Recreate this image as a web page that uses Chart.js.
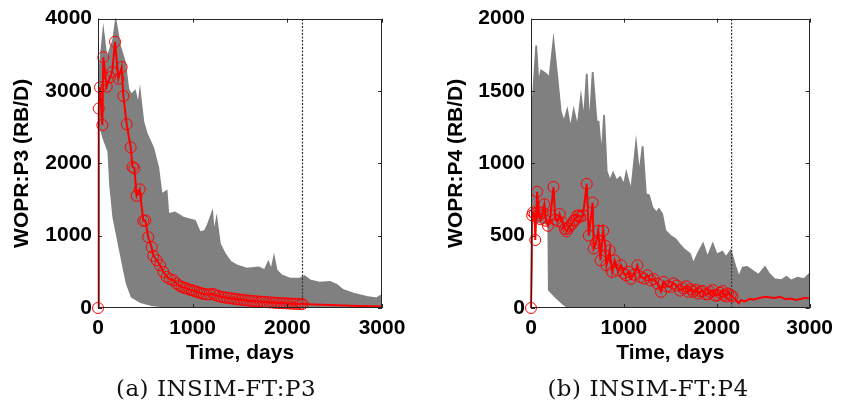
<!DOCTYPE html>
<html><head><meta charset="utf-8">
<script src="https://cdn.jsdelivr.net/npm/chart.js@4.4.1/dist/chart.umd.min.js"></script>
<style>
html,body{margin:0;padding:0;background:#fff;}
#wrap{position:relative;width:841px;height:408px;overflow:hidden;background:#fff;}
.pane{position:absolute;top:0;height:408px;}
.cap{position:absolute;top:377px;font-family:"DejaVu Serif",serif;font-size:23px;line-height:23px;letter-spacing:0.5px;white-space:nowrap;color:#111;transform:translateX(-50%);}
</style></head><body>
<div id="wrap">
<div class="pane" style="left:0;width:420px"><canvas id="c1" width="420" height="408"></canvas></div>
<div class="pane" style="left:420px;width:421px"><canvas id="c2" width="421" height="408"></canvas></div>
<div class="cap" style="left:216px">(a) INSIM-FT:P3</div>
<div class="cap" style="left:648px">(b) INSIM-FT:P4</div>
</div>
<script>
// ---------- tick labels ----------
const xTicks = [0, 1000, 2000, 3000];
const yTicksP3 = [0, 1000, 2000, 3000, 4000];
const yTicksP4 = [0, 500, 1000, 1500, 2000];
const historyEnd = 2160; // days (dotted line)

// ---------- P3: ensemble envelope ----------
const p3EnvUpperT = [0, 3, 20, 56, 92, 110, 127, 160, 187, 232, 285, 320, 350, 391, 426, 443, 479, 514, 584, 637, 672, 725, 743, 813, 900, 1024, 1077, 1130, 1160, 1207, 1225, 1253, 1288, 1341, 1400, 1464, 1570, 1700, 1760, 1799, 1830, 1859, 1887, 1940, 2027, 2133, 2180, 2239, 2340, 2450, 2520, 2590, 2700, 2838, 2943, 3000];
const p3EnvUpper  = [0, 3280, 3350, 3830, 3440, 3500, 3580, 3700, 3968, 3626, 3397, 3032, 2950, 3000, 2804, 2986, 2575, 2415, 2210, 1936, 1571, 1616, 1297, 1319, 1250, 1205, 1045, 1068, 1150, 1319, 1023, 1228, 886, 749, 640, 589, 543, 560, 520, 634, 520, 703, 520, 452, 406, 406, 440, 383, 350, 360, 320, 246, 200, 155, 133, 178];
const p3EnvLowerT = [0, 3, 56, 109, 127, 162, 232, 267, 303, 356, 450, 567, 700, 1000, 1500, 3000];
const p3EnvLower  = [0, 2600, 2350, 2164, 1712, 1251, 795, 566, 338, 155, 80, 41, 20, 8, 3, 0];

// ---------- P3: observed (history, markers) and continuation ----------
const p3HistT = [0, 8, 21, 46, 56, 92, 127, 150, 180, 215, 250, 268, 303, 345, 365, 385, 408, 440, 479, 500, 530, 567, 584, 620, 655, 690, 725, 760, 795, 831, 860, 884, 910, 937, 965, 990, 1015, 1042, 1070, 1095, 1120, 1150, 1180, 1218, 1240, 1270, 1300, 1330, 1360, 1390, 1420, 1450, 1480, 1510, 1540, 1570, 1600, 1630, 1660, 1690, 1720, 1750, 1780, 1810, 1840, 1870, 1900, 1930, 1960, 1990, 2020, 2050, 2080, 2110, 2140, 2160];
const p3Hist  = [0, 2757, 3050, 2530, 3466, 3060, 3190, 3260, 3680, 3170, 3330, 2930, 2540, 2220, 1950, 1930, 1550, 1640, 1205, 1210, 980, 840, 720, 660, 590, 500, 430, 400, 384, 338, 310, 292, 280, 270, 255, 247, 235, 224, 212, 201, 195, 188, 190, 195, 178, 165, 155, 148, 142, 136, 131, 125, 120, 114, 110, 105, 100, 97, 93, 90, 87, 84, 80, 78, 76, 73, 70, 68, 66, 64, 62, 60, 58, 57, 56, 55];
const p3FutT = [2160, 2300, 2450, 2600, 2750, 2900, 3000];
const p3Fut  = [55, 47, 40, 34, 28, 23, 20];

// ---------- P4: ensemble envelope ----------
const p4EnvUpperT = [0, 15, 21, 56, 81, 109, 160, 186, 197, 242, 285, 320, 355, 390, 425, 460, 500, 538, 570, 600, 629, 664, 706, 727, 760, 787, 815, 850, 885, 920, 960, 1000, 1026, 1078, 1131, 1166, 1202, 1237, 1270, 1307, 1350, 1377, 1412, 1447, 1500, 1553, 1600, 1640, 1711, 1747, 1800, 1852, 1900, 1957, 2000, 2060, 2100, 2150, 2203, 2238, 2280, 2326, 2400, 2450, 2519, 2560, 2620, 2695, 2750, 2800, 2870, 2940, 3000];
const p4EnvUpper  = [0, 1460, 1459, 1813, 1550, 1642, 1620, 1600, 1585, 1847, 1585, 1356, 1288, 1368, 1240, 1368, 1250, 1459, 1300, 1619, 1242, 1630, 1288, 1288, 1050, 1334, 945, 880, 934, 880, 905, 850, 934, 808, 1139, 925, 1117, 786, 780, 694, 660, 683, 649, 534, 500, 477, 440, 410, 375, 306, 380, 443, 350, 443, 370, 390, 350, 397, 283, 214, 280, 283, 250, 230, 283, 240, 200, 192, 215, 190, 210, 200, 238];
const p4EnvLowerT = [0, 15, 186, 192, 250, 300, 350, 411, 3000];
const p4EnvLower  = [0, 600, 580, 125, 85, 55, 25, 0, 0];

// ---------- P4: observed (history, markers) and continuation ----------
const p4HistT = [0, 12, 21, 40, 46, 66, 85, 102, 125, 144, 161, 183, 210, 242, 262, 290, 309, 337, 366, 383, 400, 418, 440, 460, 480, 495, 515, 530, 560, 600, 622, 664, 675, 700, 724, 748, 777, 800, 812, 847, 875, 900, 935, 970, 1000, 1022, 1050, 1075, 1110, 1145, 1180, 1219, 1251, 1290, 1320, 1360, 1400, 1430, 1465, 1500, 1535, 1570, 1605, 1641, 1670, 1694, 1720, 1746, 1775, 1799, 1825, 1852, 1880, 1904, 1930, 1957, 1985, 2010, 2035, 2062, 2080, 2097, 2120, 2150, 2168];
const p4Hist  = [0, 640, 660, 650, 470, 803, 640, 614, 660, 717, 603, 568, 640, 836, 610, 600, 649, 591, 546, 530, 550, 568, 580, 603, 610, 637, 640, 630, 640, 858, 500, 728, 411, 450, 534, 329, 534, 430, 295, 397, 249, 329, 260, 295, 240, 226, 250, 203, 230, 295, 214, 203, 226, 190, 200, 169, 112, 180, 150, 146, 170, 155, 120, 135, 150, 112, 130, 112, 125, 101, 115, 117, 95, 94, 110, 123, 85, 89, 105, 117, 90, 80, 100, 89, 80];
const p4FutT = [2168, 2200, 2237, 2260, 2300, 2350, 2400, 2450, 2519, 2560, 2620, 2680, 2740, 2800, 2850, 2900, 2950, 3000];
const p4Fut  = [80, 60, 32, 55, 45, 62, 58, 68, 77, 75, 70, 78, 60, 66, 55, 62, 70, 65];

// ---------- styling ----------
const GRAY = '#808080';
const RED = '#ff0000';
const AX = '#262626';
const tickFont = {family: 'Liberation Sans, Arial, sans-serif', size: 21, weight: 'bold'};

function pts(t, v) { return t.map((x, i) => ({x: x, y: v[i]})); }

const framePlugin = {
  id: 'frame',
  afterDatasetsDraw(chart) {
    const {ctx, chartArea: a, scales} = chart;
    const xs = scales.x, ys = scales.y;
    ctx.save();
    ctx.strokeStyle = AX;
    ctx.lineWidth = 1;
    ctx.beginPath();
    ctx.rect(Math.round(a.left) + 0.5, Math.round(a.top) + 0.5, Math.round(a.right - a.left) - 1, Math.round(a.bottom - a.top) - 1);
    const L = 4;
    xs.ticks.forEach(t => {
      const p = Math.round(xs.getPixelForValue(t.value)) + 0.5;
      ctx.moveTo(p, a.bottom); ctx.lineTo(p, a.bottom - L);
      ctx.moveTo(p, a.top); ctx.lineTo(p, a.top + L);
    });
    ys.ticks.forEach(t => {
      const p = Math.round(ys.getPixelForValue(t.value)) + 0.5;
      ctx.moveTo(a.left, p); ctx.lineTo(a.left + L, p);
      ctx.moveTo(a.right, p); ctx.lineTo(a.right - L, p);
    });
    ctx.stroke();
    ctx.restore();
  }
};

function makeChart(id, cfg) {
  const datasets = [
    {data: pts(cfg.histT, cfg.hist), borderColor: RED, borderWidth: 2, pointRadius: 5.5, pointBorderWidth: 1,
     pointBorderColor: RED, pointBackgroundColor: 'rgba(0,0,0,0)', fill: false, clip: false},
    {data: pts(cfg.futT, cfg.fut), borderColor: RED, borderWidth: 2, pointRadius: 0, fill: false},
    {data: [{x: historyEnd, y: 0}, {x: historyEnd, y: cfg.yTicks[cfg.yTicks.length - 1]}], borderColor: '#333333',
     borderWidth: 1.2, borderDash: [2, 1.5], pointRadius: 0, fill: false},
    {data: pts(cfg.upT, cfg.up), borderColor: GRAY, borderWidth: 1.8, pointRadius: 0, fill: '+1', backgroundColor: GRAY},
    {data: pts(cfg.loT, cfg.lo), borderColor: GRAY, borderWidth: 1.8, pointRadius: 0, fill: false}
  ];
  return new Chart(document.getElementById(id), {
    type: 'line',
    data: {datasets: datasets},
    plugins: [framePlugin],
    options: {
      responsive: false,
      animation: false,
      layout: {padding: {top: 16, right: cfg.padRight, bottom: 40, left: 0}},
      elements: {line: {tension: 0}},
      plugins: {legend: {display: false}, tooltip: {enabled: false}},
      scales: {
        x: {
          type: 'linear', min: 0, max: 3000,
          grid: {display: false, drawTicks: false}, border: {display: false},
          afterBuildTicks: s => { s.ticks = xTicks.map(v => ({value: v})); },
          afterFit: s => { s.height = 60; },
          ticks: {font: tickFont, color: '#000', padding: 8, maxRotation: 0, callback: v => String(v)},
          title: {display: true, text: 'Time, days', font: tickFont, color: '#000', padding: {top: 0, bottom: 2}}
        },
        y: {
          type: 'linear', min: 0, max: cfg.yTicks[cfg.yTicks.length - 1],
          grid: {display: false, drawTicks: false}, border: {display: false},
          afterBuildTicks: s => { s.ticks = cfg.yTicks.map(v => ({value: v})); },
          afterFit: s => { s.width = cfg.yWidth; },
          ticks: {font: tickFont, color: '#000', padding: 6, callback: v => String(v)},
          title: {display: true, text: cfg.yTitle, font: tickFont, color: '#000', padding: {top: cfg.yTitlePad, bottom: 0}}
        }
      }
    }
  });
}

makeChart('c1', {histT: p3HistT, hist: p3Hist, futT: p3FutT, fut: p3Fut, upT: p3EnvUpperT, up: p3EnvUpper,
  loT: p3EnvLowerT, lo: p3EnvLower, yTicks: yTicksP3, yTitle: 'WOPR:P3 (RB/D)', yWidth: 98, yTitlePad: 10, padRight: 38});
makeChart('c2', {histT: p4HistT, hist: p4Hist, futT: p4FutT, fut: p4Fut, upT: p4EnvUpperT, up: p4EnvUpper,
  loT: p4EnvLowerT, lo: p4EnvLower, yTicks: yTicksP4, yTitle: 'WOPR:P4 (RB/D)', yWidth: 111, yTitlePad: 24, padRight: 25});
</script>
</body></html>
